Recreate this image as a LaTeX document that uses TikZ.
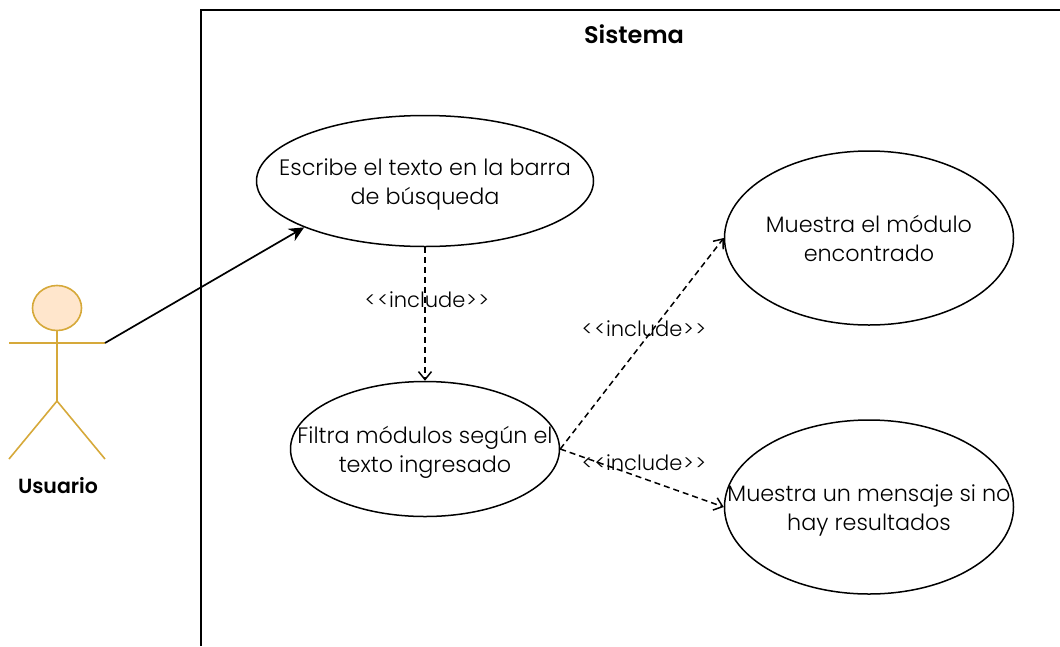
\documentclass[tikz,border=0pt]{standalone}
\usepackage{fontspec}
\setmainfont{Poppins}[UprightFont=* Light,BoldFont=* SemiBold]
\usetikzlibrary{arrows.meta,shapes.geometric}
\definecolor{actor}{HTML}{D6A93A}
\definecolor{actorfill}{HTML}{FFE6CC}
\newcommand{\uctext}[1]{\raisebox{-8pt}[0pt][0pt]{\makebox[0pt]{\begin{tabular}[c]{@{}c@{}}#1\end{tabular}}}}
\newcommand{\inctext}{\kern1pt<\kern2pt<\kern1pt include\kern1pt>\kern2pt>\kern1pt}
\tikzset{
 uc/.style={draw=black,line width=1.5pt,ellipse,minimum width=#1,inner sep=0pt,font=\fontsize{22.3}{29}\selectfont},
 inc/.style={draw=black,line width=1.5pt,dash pattern=on 6pt off 4pt,-{Straight Barb[length=8pt,width=13pt]}},
 lab/.style={inner sep=0pt,font=\fontsize{21}{24}\selectfont},
 act/.style={draw=actor,line width=1.6pt},
}
\begin{document}
\begin{tikzpicture}[x=1pt,y=-1pt]
\useasboundingbox (0,0) rectangle (1060,646);
\draw[black,line width=1.6pt] (201,646) -- (201,10) -- (1060,10);
\node[inner sep=0pt,font=\fontsize{24}{26}\selectfont\bfseries] (sis) at (634,34) {Sistema};
\node[uc=337pt,minimum height=131pt] (a) at (425,181) {\uctext{Escribe el texto en la barra\\de búsqueda}};
\node[uc=269pt,minimum height=135pt] (b) at (425,449) {\uctext{Filtra módulos según el\\texto ingresado}};
\node[uc=289pt,minimum height=174pt] (c) at (869,238) {\uctext{Muestra el módulo\\encontrado}};
\node[uc=289pt,minimum height=174pt] (d) at (869,507) {\uctext{Muestra un mensaje si no\\hay resultados}};
\draw[act,fill=actorfill] (57,308) ellipse (24.5 and 22.5);
\coordinate (neck) at (57,330);
\coordinate (hip) at (57,401);
\coordinate (handl) at (9,343);
\coordinate (handr) at (105,343);
\coordinate (footl) at (9,459);
\coordinate (footr) at (105,459);
\draw[act] (neck) -- (hip) (handl) -- (handr) (footl) -- (hip) -- (footr);
\node[inner sep=0pt,font=\fontsize{20.5}{22}\selectfont\bfseries] (u) at (58,486) {Usuario};
\draw[black,line width=1.7pt,-{Stealth[length=15pt,width=14pt]}] (handr) -- (a.201.4);
\draw[inc] (a) -- (b);
\draw[inc] (b.east) -- (c.west);
\draw[inc] (b.east) -- (d.west);
\node[lab] (l1) at (427,300) {\inctext};
\node[lab] (l2) at (644,329) {\inctext};
\node[lab] (l3) at (644,463) {\inctext};
\end{tikzpicture}
\end{document}
